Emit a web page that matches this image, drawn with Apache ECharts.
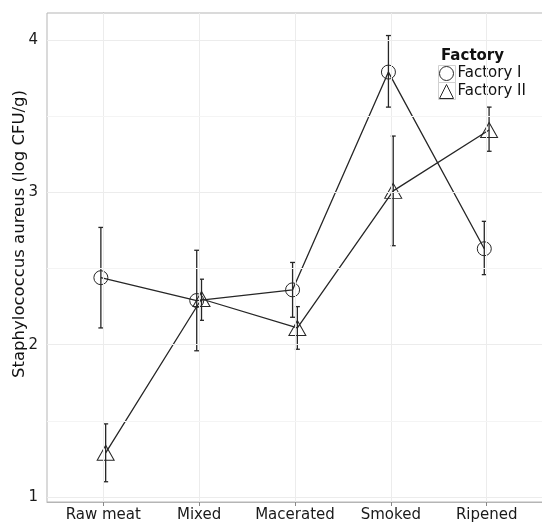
<!DOCTYPE html>
<html>
<head>
<meta charset="utf-8">
<script src="https://cdn.jsdelivr.net/npm/echarts@6/dist/echarts.min.js"></script>
<style>html,body{margin:0;padding:0;background:#fff;}#c{width:542px;height:525px;}</style>
</head>
<body>
<div id="c"></div>
<script>
const categories = ['Raw meat', 'Mixed', 'Macerated', 'Smoked', 'Ripened'];
const factory1Mean = [2.44, 2.29, 2.36, 3.79, 2.63];
const factory1Low  = [2.11, 1.96, 2.18, 3.56, 2.46];
const factory1High = [2.77, 2.62, 2.54, 4.03, 2.81];
const factory2Mean = [1.29, 2.30, 2.11, 3.01, 3.41];
const factory2Low  = [1.10, 2.16, 1.97, 2.65, 3.27];
const factory2High = [1.48, 2.43, 2.25, 3.37, 3.56];
const yTicks = [1, 2, 3, 4];
const yMinor = [1.5, 2.5, 3.5];
const yTitle = 'Staphylococcus aureus (log CFU/g)';
const dodge = 0.025;

const ink = '#262626';
const f1Pts = factory1Mean.map((v, i) => [i - dodge, v]);
const f2Pts = factory2Mean.map((v, i) => [i + dodge, v]);
const f1Err = factory1Mean.map((v, i) => [i - dodge, factory1Low[i], factory1High[i]]);
const f2Err = factory2Mean.map((v, i) => [i + dodge, factory2Low[i], factory2High[i]]);
const catIdx = categories.map((c, i) => i);

function errRender(params, api) {
  const x = api.value(0), lo = api.value(1), hi = api.value(2);
  const a = api.coord([x, hi]), b = api.coord([x, lo]);
  const w = 2.5;
  const st = {stroke: ink, lineWidth: 1.3};
  return {type: 'group', children: [
    {type: 'line', shape: {x1: a[0], y1: a[1], x2: b[0], y2: b[1]}, style: st},
    {type: 'line', shape: {x1: a[0] - w, y1: a[1], x2: a[0] + w, y2: a[1]}, style: st},
    {type: 'line', shape: {x1: b[0] - w, y1: b[1], x2: b[0] + w, y2: b[1]}, style: st}
  ]};
}

const chart = echarts.init(document.getElementById('c'), null, {renderer: 'canvas'});
chart.setOption({
  animation: false,
  backgroundColor: '#fff',
  textStyle: {fontFamily: 'DejaVu Sans'},
  grid: {left: 47, right: -2, top: 13, bottom: 23, show: true, borderColor: '#b5b5b5', borderWidth: 1, containLabel: false, outerBoundsMode: 'none'},
  xAxis: {
    type: 'value', min: -0.587, max: 4.598,
    axisLine: {show: true, lineStyle: {color: '#b5b5b5'}},
    axisTick: {show: true, length: 4, customValues: catIdx, lineStyle: {color: '#888'}},
    axisLabel: {customValues: catIdx, formatter: v => categories[Math.round(v)], color: '#1a1a1a', fontSize: 15, margin: 6},
    splitLine: {show: false}
  },
  yAxis: {
    type: 'value', min: 0.967, max: 4.178,
    axisLine: {show: true, lineStyle: {color: '#b5b5b5'}},
    axisTick: {show: true, length: 4, customValues: yTicks, lineStyle: {color: '#888'}},
    axisLabel: {customValues: yTicks, color: '#1a1a1a', fontSize: 15, margin: 9},
    splitLine: {show: false}
  },
  legend: {
    orient: 'vertical', left: 439, top: 66, itemWidth: 14, itemHeight: 14, itemGap: 3, padding: 0,
    textStyle: {fontSize: 15, color: '#111', padding: [0, 0, 0, -1]},
    data: [
      {name: 'Factory I', icon: 'circle', itemStyle: {color: 'transparent', borderColor: ink, borderWidth: 1}},
      {name: 'Factory II', icon: 'triangle', itemStyle: {color: 'transparent', borderColor: ink, borderWidth: 1}}
    ]
  },
  graphic: [
    {type: 'text', x: 20, y: 234, rotation: Math.PI / 2,
     style: {text: yTitle, font: '16.5px "DejaVu Sans"', fill: '#111', align: 'center', verticalAlign: 'middle'}},
    {type: 'text', left: 441, top: 49, style: {text: 'Factory', font: 'bold 15px "DejaVu Sans"', fill: '#111'}},
    {type: 'rect', shape: {x: 438.5, y: 65.5, width: 17, height: 17}, style: {fill: 'none', stroke: '#d0d0d0', lineWidth: 1}, z: -1},
    {type: 'rect', shape: {x: 438.5, y: 82.5, width: 17, height: 17}, style: {fill: 'none', stroke: '#d0d0d0', lineWidth: 1}, z: -1}
  ],
  series: [
    {
      type: 'line', name: 'grid', silent: true, data: [], z: 0,
      markLine: {
        silent: true, symbol: 'none', label: {show: false}, animation: false,
        lineStyle: {color: '#ececec', width: 1, type: 'solid'},
        data: catIdx.map(i => ({xAxis: i})).concat(yTicks.map(v => ({yAxis: v}))).concat(yMinor.map(v => ({yAxis: v, lineStyle: {color: '#f4f4f4'}})))
      }
    },
    {type: 'custom', name: 'err1', renderItem: errRender, data: f1Err, z: 2, silent: true},
    {type: 'custom', name: 'err2', renderItem: errRender, data: f2Err, z: 2, silent: true},
    {
      type: 'line', name: 'Factory I', data: f1Pts, z: 3,
      symbol: 'circle', symbolSize: 14,
      lineStyle: {color: ink, width: 1.3},
      itemStyle: {color: 'transparent', borderColor: ink, borderWidth: 1}
    },
    {
      type: 'line', name: 'Factory II', data: f2Pts, z: 3,
      symbol: 'triangle', symbolSize: [17, 15],
      lineStyle: {color: ink, width: 1.3},
      itemStyle: {color: 'transparent', borderColor: ink, borderWidth: 1}
    }
  ]
});
</script>
</body>
</html>
